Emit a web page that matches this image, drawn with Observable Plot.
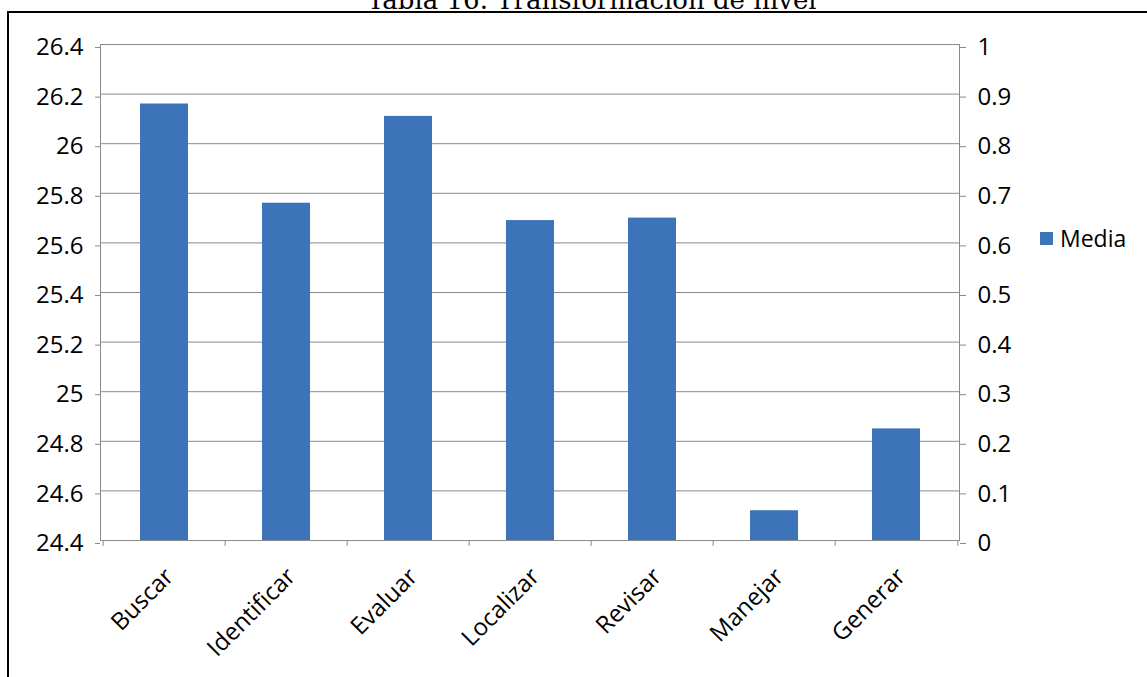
<!DOCTYPE html>
<html>
<head>
<meta charset="utf-8">
<script src="https://cdn.jsdelivr.net/npm/d3@7"></script>
<script src="https://cdn.jsdelivr.net/npm/@observablehq/plot@0.6"></script>
<style>
  html, body { margin: 0; padding: 0; background: #fff; }
  #wrap { position: relative; width: 1147px; height: 677px; overflow: hidden; }
  #title { position: absolute; left: 367px; top: -13px; font-family: "DejaVu Serif", serif; font-size: 26px; line-height: 1; color: #000; white-space: nowrap; }
  #box { position: absolute; left: 7px; top: 11px; width: 1200px; height: 800px; border-top: 2px solid #000; border-left: 2px solid #000; }
  #chart { position: absolute; left: 0; top: 0; }
  #legend { position: absolute; left: 1040px; top: 222px; font-family: "Open Sans", sans-serif; font-size: 23px; color: #000; display: flex; align-items: center; }
  #legend .sw { width: 13px; height: 13px; margin-right: 7px; display: inline-block; }
</style>
</head>
<body>
<div id="wrap">
  <div id="box"></div>
  <div id="title">Tabla 16. Transformación de nivel</div>
  <div id="chart"></div>
  <div id="legend"></div>
</div>
<script>
const titleText = "Tabla 16. Transformación de nivel";
const seriesName = "Media";
const categories = ["Buscar", "Identificar", "Evaluar", "Localizar", "Revisar", "Manejar", "Generar"];
const values = [26.16, 25.76, 26.11, 25.69, 25.70, 24.52, 24.85];
const leftTicks = [24.4, 24.6, 24.8, 25.0, 25.2, 25.4, 25.6, 25.8, 26.0, 26.2, 26.4];
const leftTickLabels = ["24.4", "24.6", "24.8", "25", "25.2", "25.4", "25.6", "25.8", "26", "26.2", "26.4"];
const rightTickLabels = ["0", "0.1", "0.2", "0.3", "0.4", "0.5", "0.6", "0.7", "0.8", "0.9", "1"];

const barColor = "#3c73b9";
const gridColor = "#8a8a8a";

const data = categories.map((c, i) => ({cat: c, value: values[i]}));

const W = 1147, H = 677, mL = 100, mR = 188, mT = 44, mB = 137;
const step = (W - mL - mR) / categories.length;
const base = leftTicks[0];

const chart = Plot.plot({
  width: W,
  height: H,
  marginLeft: mL,
  marginRight: mR,
  marginTop: mT,
  marginBottom: mB,
  style: {fontFamily: "Open Sans, sans-serif", fontSize: "24px", color: "#000", background: "transparent"},
  x: {domain: categories, paddingInner: 0.61, paddingOuter: 0.305, label: null},
  y: {domain: [leftTicks[0], leftTicks[leftTicks.length - 1]], label: null},
  marks: [
    Plot.gridY(leftTicks, {stroke: gridColor, strokeOpacity: 1}),
    Plot.barY(data, {x: "cat", y1: () => base, y2: "value", fill: barColor}),
    Plot.frame({anchor: "left", stroke: gridColor}),
    Plot.frame({anchor: "right", stroke: gridColor}),
    Plot.axisY(leftTicks, {anchor: "left", tickSize: 5, tickPadding: 12, stroke: gridColor, fill: "#000", dy: 3,
      tickFormat: d => leftTickLabels[leftTicks.indexOf(d)], label: null}),
    Plot.axisY(leftTicks, {anchor: "right", tickSize: 6, tickPadding: 12, stroke: gridColor, fill: "#000", dy: 3,
      tickFormat: d => rightTickLabels[leftTicks.indexOf(d)], label: null}),
    Plot.axisX(categories, {anchor: "bottom", tickSize: 6, stroke: gridColor, fill: "none", dx: -step / 2, label: null}),
    Plot.axisX([categories[categories.length - 1]], {anchor: "bottom", tickSize: 6, stroke: gridColor, fill: "none", dx: step / 2, label: null}),
    Plot.axisX(categories, {anchor: "bottom", tickSize: 0, tickPadding: 32, tickRotate: -45, dx: 5, fill: "#000", label: null})
  ]
});
document.getElementById("chart").appendChild(chart);

const lg = document.getElementById("legend");
const sw = document.createElement("span");
sw.className = "sw";
sw.style.background = barColor;
lg.appendChild(sw);
lg.appendChild(document.createTextNode(seriesName));
document.getElementById("title").textContent = titleText;
</script>
</body>
</html>
